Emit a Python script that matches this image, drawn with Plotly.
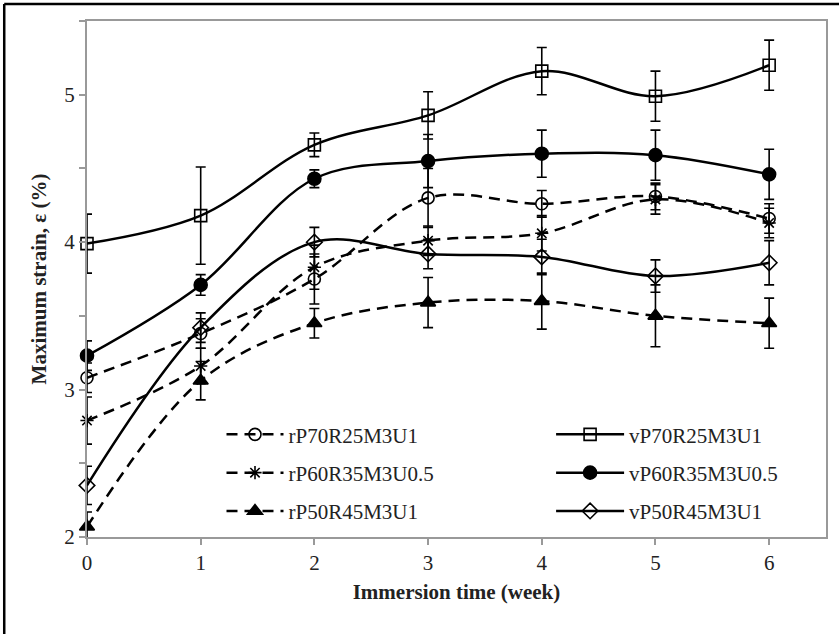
import plotly.graph_objects as go

weeks = [0, 1, 2, 3, 4, 5, 6]

names = ["rP70R25M3U1", "rP60R35M3U0.5", "rP50R45M3U1",
         "vP70R25M3U1", "vP60R35M3U0.5", "vP50R45M3U1"]

rP70R25M3U1 = [3.08, 3.38, 3.75, 4.30, 4.26, 4.31, 4.16]
rP70R25M3U1_err = [0.10, 0.10, 0.17, 0.20, 0.09, 0.09, 0.10]

rP60R35M3U05 = [2.79, 3.16, 3.83, 4.01, 4.06, 4.29, 4.13]
rP60R35M3U05_err = [0.16, 0.12, 0.15, 0.10, 0.12, 0.10, 0.10]

rP50R45M3U1 = [2.07, 3.06, 3.45, 3.59, 3.60, 3.50, 3.45]
rP50R45M3U1_err = [0.10, 0.13, 0.10, 0.17, 0.19, 0.21, 0.17]

vP70R25M3U1 = [3.99, 4.18, 4.66, 4.86, 5.16, 4.99, 5.20]
vP70R25M3U1_err = [0.20, 0.33, 0.08, 0.16, 0.16, 0.17, 0.17]

vP60R35M3U05 = [3.23, 3.71, 4.43, 4.55, 4.60, 4.59, 4.46]
vP60R35M3U05_err = [0.10, 0.07, 0.06, 0.18, 0.16, 0.17, 0.17]

vP50R45M3U1 = [2.35, 3.42, 4.00, 3.92, 3.90, 3.77, 3.86]
vP50R45M3U1_err = [0.13, 0.10, 0.10, 0.10, 0.12, 0.11, 0.15]

y_ticks = [2, 2.5, 3, 3.5, 4, 4.5, 5, 5.5]
y_ticktext = ["2", "", "3", "", "4", "", "5", ""]
x_ticks = [0, 1, 2, 3, 4, 5, 6]

series = [
    (names[0], rP70R25M3U1, rP70R25M3U1_err, "circle-open", 12, "dash", "legend"),
    (names[1], rP60R35M3U05, rP60R35M3U05_err, "asterisk-open", 11, "dash", "legend"),
    (names[2], rP50R45M3U1, rP50R45M3U1_err, "triangle-up", 13, "dash", "legend"),
    (names[3], vP70R25M3U1, vP70R25M3U1_err, "square-open", 12, "solid", "legend2"),
    (names[4], vP60R35M3U05, vP60R35M3U05_err, "circle", 13, "solid", "legend2"),
    (names[5], vP50R45M3U1, vP50R45M3U1_err, "diamond-open", 12, "solid", "legend2"),
]

FONT = "Liberation Serif"
TXT = "#222"

fig = go.Figure()
for i, (nm, ys, er, sym, sz, dash, lg) in enumerate(series):
    fig.add_trace(go.Scatter(
        x=weeks, y=ys, name=nm, mode="lines+markers",
        legend=lg, legendgroup=nm,
        line=dict(color="black", width=2.5, shape="spline",
                  dash="11px,7px" if dash == "dash" else "solid"),
        marker=dict(symbol=sym, size=sz, color="black",
                    line=dict(color="black", width=1.6)),
        error_y=dict(type="data", array=er, visible=True,
                     color="black", thickness=1.6, width=5),
        cliponaxis=False,
    ))

fig.add_shape(type="line", xref="paper", yref="paper",
              x0=-0.112, x1=1.02, y0=1.033, y1=1.033,
              line=dict(color="black", width=2.5))
fig.add_shape(type="line", xref="paper", yref="paper",
              x0=-0.112, x1=-0.112, y0=1.033, y1=-0.2,
              line=dict(color="black", width=2.5))

legend_common = dict(font=dict(family=FONT, size=21, color=TXT),
                     bgcolor="rgba(0,0,0,0)",
                     tracegroupgap=8, xanchor="left", yanchor="top",
                     orientation="v")

fig.update_layout(
    width=839, height=634,
    margin=dict(l=87, r=11, t=21, b=97),
    paper_bgcolor="white", plot_bgcolor="white",
    font=dict(family=FONT, size=21, color=TXT),
    xaxis=dict(range=[0, 6.5], tickvals=x_ticks, showline=True, mirror=True,
               linecolor="#999", linewidth=2, ticks="outside", ticklen=6,
               tickcolor="#999", tickwidth=1.5, showgrid=False, zeroline=False,
               tickfont=dict(family=FONT, size=21, color=TXT),
               title=dict(text="<b>Immersion time (week)</b>",
                          font=dict(family=FONT, size=21, color=TXT),
                          standoff=10)),
    yaxis=dict(range=[2, 5.5], tickvals=y_ticks, ticktext=y_ticktext,
               showline=True, mirror=True,
               linecolor="#999", linewidth=2, ticks="outside", ticklen=6,
               tickcolor="#999", tickwidth=1.5, showgrid=False, zeroline=False,
               tickfont=dict(family=FONT, size=21, color=TXT),
               title=dict(text="<b>Maximum strain, ε (%)</b>",
                          font=dict(family=FONT, size=21, color=TXT),
                          standoff=12)),
    legend=dict(x=0.182, y=0.238, itemwidth=57, **legend_common),
    legend2=dict(x=0.628, y=0.238, itemwidth=68, **legend_common),
)

fig.write_html("out.html")
